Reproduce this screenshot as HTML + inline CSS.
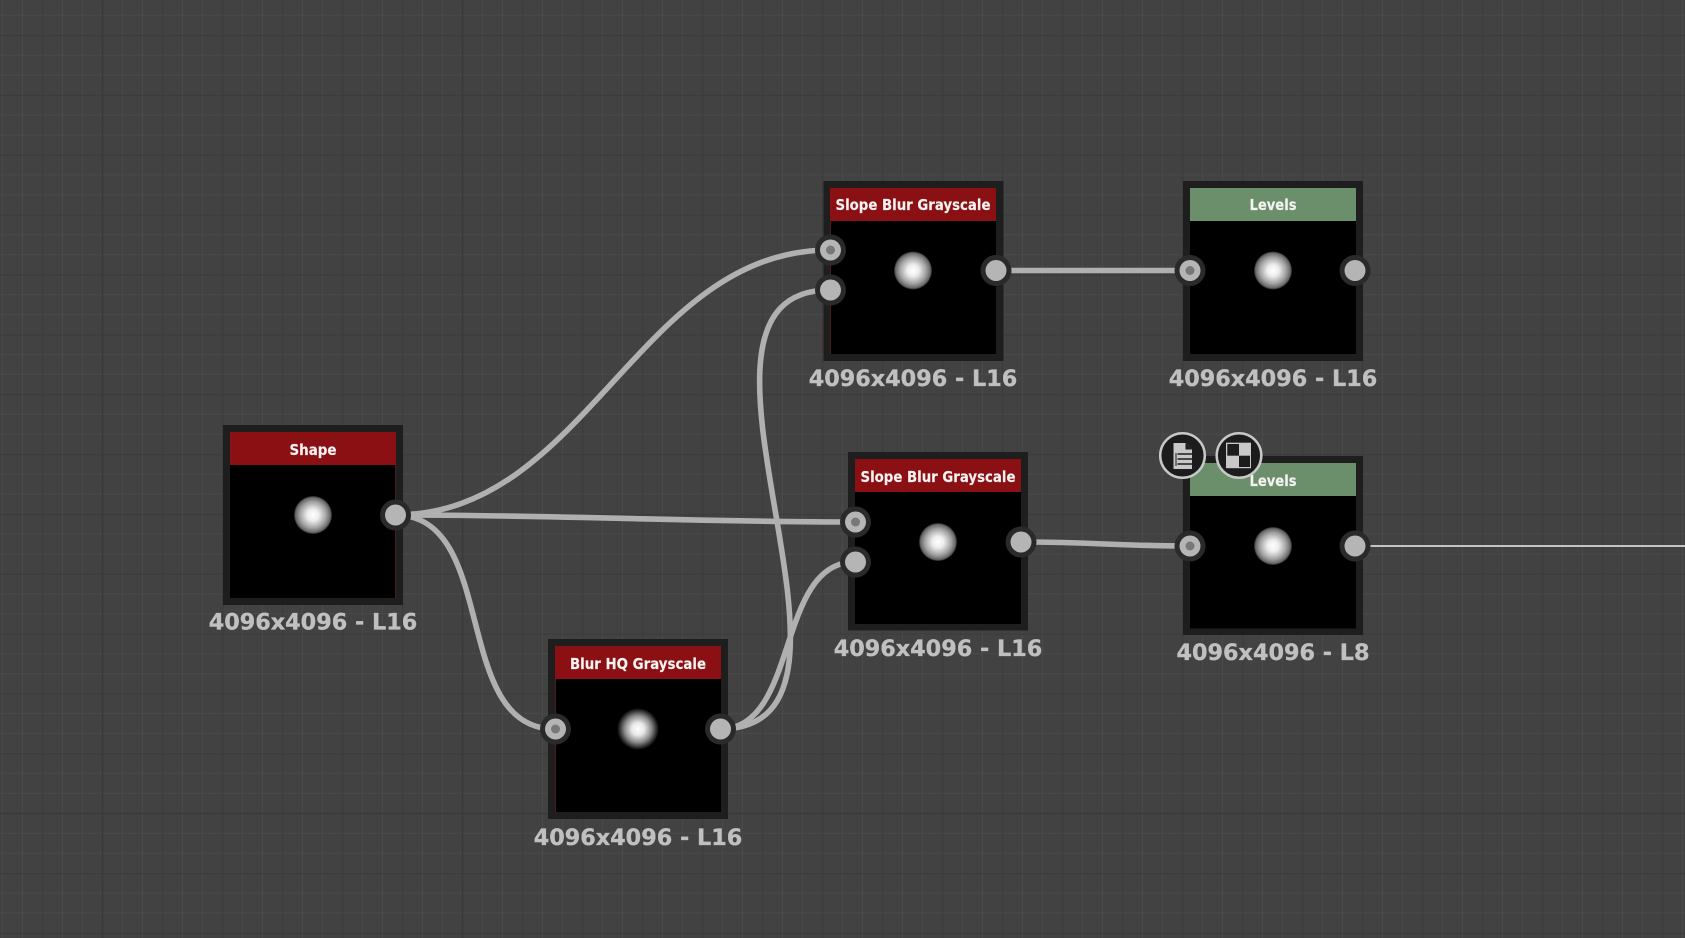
<!DOCTYPE html>
<html><head><meta charset="utf-8"><style>
html,body{margin:0;padding:0;background:#424242;width:1685px;height:938px;overflow:hidden}
svg{display:block}
.t{font:bold 15.5px "DejaVu Sans","Liberation Sans",sans-serif;fill:#f6f2f2;text-anchor:middle;stroke:#f6f2f2;stroke-width:.15}
.l{font:bold 22.3px "DejaVu Sans","Liberation Sans",sans-serif;fill:#c0c0c0;text-anchor:middle;stroke:#c0c0c0;stroke-width:.35}
.c{fill:none;stroke:#b0b0b0;stroke-width:5.6}
.pr{fill:#2a2a2a}.pf{fill:#b5b5b5}.pd{fill:#787878}
.e{fill:#4a1c1c}
</style></head><body>
<svg width="1685" height="938" viewBox="0 0 1685 938" xmlns="http://www.w3.org/2000/svg">
<defs>
<pattern id="g1" width="60" height="59.85" patternUnits="userSpaceOnUse" x="42" y="35">
<path d="M20.5 0V59.85M40.5 0V59.85M0 20.2H60M0 40.1H60" stroke="#4a4a4a" stroke-width="1" fill="none"/>
<path d="M.5 0V59.85M0 .5H60" stroke="#3c3c3c" stroke-width="1.5" fill="none"/>
</pattern>
<radialGradient id="glow"><stop offset="0" stop-color="#fff"/><stop offset=".3" stop-color="#eee"/><stop offset=".7" stop-color="#a0a0a0"/><stop offset=".92" stop-color="#666"/><stop offset="1" stop-color="#222"/></radialGradient>
<radialGradient id="glow2"><stop offset="0" stop-color="#fff"/><stop offset=".3" stop-color="#e8e8e8"/><stop offset=".65" stop-color="#888"/><stop offset="1" stop-color="#000"/></radialGradient>
</defs>
<rect width="1685" height="938" fill="#424242"/>
<rect width="1685" height="938" fill="url(#g1)"/>
<path d="M102.500 0V938M462.500 0V938M0 813.500H1685" stroke="#3a3a3a" stroke-width="1.500" fill="none"/>

<!-- Nodes -->
<g>
<rect x="223" y="425" width="180" height="180" fill="#1e1e1e"/><rect x="230" y="432" width="166" height="166" fill="#000"/><rect x="395" y="465" width="1" height="133" class="e"/><rect x="230" y="432" width="166" height="33" fill="#8a1014"/>
<text class="t" x="313" y="455" textLength="47" lengthAdjust="spacingAndGlyphs">Shape</text>
<circle cx="313" cy="515" r="19" fill="url(#glow)"/>
<text class="l" x="313" y="629.500">4096x4096 - L16</text>
</g>
<g>
<rect x="823.500" y="181" width="180" height="180" fill="#1e1e1e"/><rect x="830" y="188" width="166" height="166" fill="#000"/><rect x="830" y="221" width="1" height="133" class="e"/><rect x="830" y="188" width="166" height="33" fill="#8a1014"/>
<text class="t" x="913" y="210" textLength="155" lengthAdjust="spacingAndGlyphs">Slope Blur Grayscale</text>
<circle cx="913" cy="270.500" r="19" fill="url(#glow)"/>
<text class="l" x="913" y="386">4096x4096 - L16</text>
</g>
<g>
<rect x="1183" y="181" width="180" height="180" fill="#1e1e1e"/><rect x="1190" y="188" width="166" height="166" fill="#000"/><rect x="1190" y="188" width="166" height="33" fill="#6b8f6a"/>
<text class="t" x="1273" y="210" textLength="47" lengthAdjust="spacingAndGlyphs">Levels</text>
<circle cx="1273" cy="270.500" r="19" fill="url(#glow)"/>
<text class="l" x="1273" y="386">4096x4096 - L16</text>
</g>
<g>
<rect x="848" y="452" width="180" height="178.500" fill="#1e1e1e"/><rect x="855" y="459" width="166" height="165" fill="#000"/><rect x="855" y="459" width="166" height="33" fill="#8a1014"/>
<text class="t" x="938" y="482" textLength="155" lengthAdjust="spacingAndGlyphs">Slope Blur Grayscale</text>
<circle cx="938" cy="542" r="19" fill="url(#glow)"/>
<text class="l" x="938" y="656">4096x4096 - L16</text>
</g>
<g>
<rect x="1183" y="456" width="180" height="179" fill="#1e1e1e"/><rect x="1190" y="463" width="166" height="165.500" fill="#000"/><rect x="1190" y="463" width="166" height="33" fill="#6b8f6a"/>
<text class="t" x="1273" y="486" textLength="47" lengthAdjust="spacingAndGlyphs">Levels</text>
<circle cx="1273" cy="546" r="19" fill="url(#glow)"/>
<text class="l" x="1273" y="660">4096x4096 - L8</text>
</g>
<g>
<rect x="548" y="639" width="180" height="180" fill="#1e1e1e"/><rect x="555" y="646" width="166" height="166" fill="#000"/><rect x="555" y="679" width="1" height="133" class="e"/><rect x="555" y="646" width="166" height="33" fill="#8a1014"/>
<text class="t" x="638" y="669" textLength="136" lengthAdjust="spacingAndGlyphs">Blur HQ Grayscale</text>
<circle cx="638" cy="729" r="21" fill="url(#glow2)"/>
<text class="l" x="638" y="845">4096x4096 - L16</text>
</g>

<!-- Connectors -->
<path class="c" d="M395 515C587 515 638 250 830 250"/>
<path class="c" d="M395 515C500 515 450 729 555 729"/>
<path class="c" d="M395 515C560 515 700 522 855 522"/>
<path class="c" d="M720 729C905 729 645 290 830 290"/>
<path class="c" d="M720 729C800 729 775 562 855 562"/>
<path class="c" d="M996 270.500H1190"/>
<path class="c" d="M1021 542C1100 542 1110 546 1190 546"/>
<path d="M1355 546H1685" stroke="#c4c4c4" stroke-width="2" fill="none"/>

<!-- Ports -->
<circle class="pr" cx="395.500" cy="515" r="15.500"/><circle class="pf" cx="395.500" cy="515" r="10.500"/>
<circle class="pr" cx="830.500" cy="250" r="15.500"/><circle class="pf" cx="830.500" cy="250" r="10.500"/><circle class="pd" cx="830.500" cy="250" r="4.500"/>
<circle class="pr" cx="830.500" cy="290" r="15.500"/><circle class="pf" cx="830.500" cy="290" r="10.500"/>
<circle class="pr" cx="996" cy="270.500" r="15.500"/><circle class="pf" cx="996" cy="270.500" r="10.500"/>
<circle class="pr" cx="1190" cy="270.500" r="15.500"/><circle class="pf" cx="1190" cy="270.500" r="10.500"/><circle class="pd" cx="1190" cy="270.500" r="4.500"/>
<circle class="pr" cx="1355" cy="270.500" r="15.500"/><circle class="pf" cx="1355" cy="270.500" r="10.500"/>
<circle class="pr" cx="855.500" cy="522" r="15.500"/><circle class="pf" cx="855.500" cy="522" r="10.500"/><circle class="pd" cx="855.500" cy="522" r="4.500"/>
<circle class="pr" cx="855.500" cy="562" r="15.500"/><circle class="pf" cx="855.500" cy="562" r="10.500"/>
<circle class="pr" cx="1021" cy="542" r="15.500"/><circle class="pf" cx="1021" cy="542" r="10.500"/>
<circle class="pr" cx="1190" cy="546" r="15.500"/><circle class="pf" cx="1190" cy="546" r="10.500"/><circle class="pd" cx="1190" cy="546" r="4.500"/>
<circle class="pr" cx="1355" cy="546" r="15.500"/><circle class="pf" cx="1355" cy="546" r="10.500"/>
<circle class="pr" cx="555.500" cy="729" r="15.500"/><circle class="pf" cx="555.500" cy="729" r="10.500"/><circle class="pd" cx="555.500" cy="729" r="4.500"/>
<circle class="pr" cx="720.500" cy="729" r="15.500"/><circle class="pf" cx="720.500" cy="729" r="10.500"/>

<!-- Icons -->
<circle cx="1182.500" cy="455.500" r="22.300" fill="#1c1c1c" stroke="#c8c8c8" stroke-width="2.500"/>
<path d="M1173.500 443H1185.500L1192 449.500V469H1173.500Z" fill="#c8c8c8"/>
<path d="M1185.500 443V449.500H1192" fill="#1c1c1c"/>
<path d="M1177.500 454H1192M1177.500 459H1192M1177.500 464H1192" stroke="#1c1c1c" stroke-width="1.500"/>
<path d="M1176 453V466" stroke="#1c1c1c" stroke-width="1"/>
<circle cx="1239" cy="455.500" r="22.300" fill="#1c1c1c" stroke="#c8c8c8" stroke-width="2.500"/>
<rect x="1226" y="442.700" width="25" height="25.500" fill="#c8c8c8"/>
<rect x="1227.300" y="444" width="11.700" height="11.700" fill="#1c1c1c"/>
<rect x="1239" y="455.700" width="11" height="11.300" fill="#1c1c1c"/>
</svg>
</body></html>
